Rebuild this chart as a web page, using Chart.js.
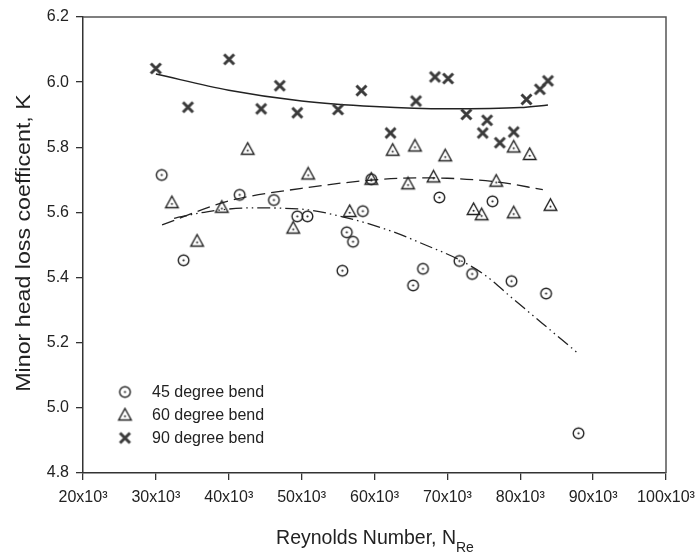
<!DOCTYPE html>
<html>
<head>
<meta charset="utf-8">
<script src="https://cdn.jsdelivr.net/npm/chart.js@4"></script>
<style>
  body { margin: 0; background: #fff; }
  canvas { display: block; }
</style>
</head>
<body>
<canvas id="myChart" width="698" height="554"></canvas>
<script>
// Reynolds number in thousands, K values
const re45 = [30.8, 33.8, 41.5, 46.2, 49.4, 50.8, 55.6, 56.2, 57.05, 58.4, 59.56, 65.3, 66.65, 68.9, 71.65, 73.4, 76.2, 78.8, 83.55, 88.0];
const k45  = [5.715, 5.453, 5.654, 5.638, 5.588, 5.588, 5.421, 5.539, 5.510, 5.604, 5.702, 5.376, 5.427, 5.646, 5.451, 5.411, 5.634, 5.389, 5.351, 4.922];

const re60 = [32.2, 35.66, 39.05, 42.6, 48.85, 50.9, 56.6, 59.56, 62.5, 64.6, 65.55, 68.1, 69.7, 73.6, 74.7, 76.7, 79.1, 79.1, 81.3, 84.15];
const k60  = [5.630, 5.512, 5.616, 5.794, 5.552, 5.718, 5.603, 5.702, 5.791, 5.688, 5.804, 5.709, 5.774, 5.609, 5.593, 5.696, 5.801, 5.599, 5.778, 5.622];

const re90 = [30.0, 34.4, 40.05, 44.45, 47.0, 49.4, 55.0, 58.2, 62.2, 65.7, 68.3, 70.1, 72.6, 74.85, 75.45, 77.2, 79.1, 80.85, 82.7, 83.8];
const k90  = [6.042, 5.923, 6.070, 5.918, 5.989, 5.906, 5.916, 5.974, 5.844, 5.942, 6.016, 6.011, 5.901, 5.844, 5.883, 5.814, 5.847, 5.947, 5.978, 6.004];

// fitted curves, points
const fitRe45 = [32.5, 37, 43, 50, 55, 62, 67, 71.6, 75, 79, 83, 87.8];
const fitK45  = [5.582, 5.602, 5.614, 5.610, 5.590, 5.545, 5.500, 5.455, 5.410, 5.335, 5.260, 5.170];
const fitRe60 = [30.85, 40, 50, 60, 66, 70, 77, 83.1];
const fitK60  = [5.562, 5.635, 5.674, 5.700, 5.706, 5.705, 5.693, 5.670];
const fitRe90 = [30, 40, 50, 60, 70, 80, 83.8];
const fitK90  = [6.025, 5.975, 5.942, 5.925, 5.918, 5.922, 5.930];

const xTicks = [20, 30, 40, 50, 60, 70, 80, 90, 100];
const yTicks = [4.8, 5.0, 5.2, 5.4, 5.6, 5.8, 6.0, 6.2];
const seriesNames = ['45 degree bend', '60 degree bend', '90 degree bend'];

const font = 'Liberation Sans, Arial, sans-serif';

function pts(xs, ys) {
  return xs.map((x, i) => ({ x: x, y: ys[i] }));
}

// marker images
function circleMark() {
  const c = document.createElement('canvas');
  c.width = 15; c.height = 15;
  const g = c.getContext('2d');
  g.strokeStyle = '#222'; g.lineWidth = 1.4;
  g.beginPath(); g.arc(7.5, 7.5, 5.3, 0, Math.PI * 2); g.stroke();
  g.fillStyle = '#222';
  g.beginPath(); g.arc(7.5, 7.5, 1.1, 0, Math.PI * 2); g.fill();
  return c;
}
function triMark() {
  const c = document.createElement('canvas');
  c.width = 17; c.height = 17;
  const g = c.getContext('2d');
  g.strokeStyle = '#222'; g.lineWidth = 1.4; g.lineJoin = 'miter';
  g.beginPath(); g.moveTo(8.5, 2); g.lineTo(14.8, 13.5); g.lineTo(2.2, 13.5); g.closePath(); g.stroke();
  g.fillStyle = '#222';
  g.beginPath(); g.arc(8.5, 9.8, 1.0, 0, Math.PI * 2); g.fill();
  return c;
}
function xMark() {
  const c = document.createElement('canvas');
  c.width = 15; c.height = 15;
  const g = c.getContext('2d');
  g.strokeStyle = '#3a3a3a'; g.lineWidth = 3; g.lineCap = 'butt';
  g.beginPath(); g.moveTo(2.5, 2.5); g.lineTo(12.5, 12.5); g.moveTo(12.5, 2.5); g.lineTo(2.5, 12.5); g.stroke();
  return c;
}
const marks = [circleMark(), triMark(), xMark()];

const framePlugin = {
  id: 'frame',
  afterDraw(chart) {
    const a = chart.chartArea, c = chart.ctx;
    c.save();
    c.strokeStyle = '#555'; c.lineWidth = 1.5;
    c.beginPath();
    c.moveTo(a.left, a.top); c.lineTo(a.right, a.top); c.lineTo(a.right, a.bottom);
    c.stroke();

    // legend inside plot
    c.fillStyle = '#222';
    c.font = '16px ' + font;
    c.textBaseline = 'middle';
    const rows = [392, 415, 438];
    for (let i = 0; i < 3; i++) {
      const m = marks[i];
      c.drawImage(m, 125 - m.width / 2, rows[i] - m.height / 2);
      c.fillText(seriesNames[i], 152, rows[i] + 1);
    }

    // y axis title (a bit stretched along its length, like the original)
    c.font = '20px ' + font;
    c.textAlign = 'center';
    c.textBaseline = 'alphabetic';
    c.save();
    c.translate(30, 243);
    c.rotate(-Math.PI / 2);
    c.scale(1.16, 1);
    c.fillText('Minor head loss coefficent, K', 0, 0);
    c.restore();

    // x axis title with subscript
    const main = 'Reynolds Number, N';
    c.font = '19.5px ' + font;
    const w1 = c.measureText(main).width;
    c.font = '14px ' + font;
    const w2 = c.measureText('Re').width;
    const x0 = 375 - (w1 + w2) / 2;
    c.textAlign = 'left';
    c.font = '19.5px ' + font;
    c.fillText(main, x0, 544);
    c.font = '14px ' + font;
    c.fillText('Re', x0 + w1, 552);
    c.restore();
  }
};

const ctx = document.getElementById('myChart').getContext('2d');
const myChart = new Chart(ctx, {
  type: 'scatter',
  data: {
    datasets: [
      { data: pts(re45, k45), pointStyle: marks[0], pointRadius: 7 },
      { data: pts(re60, k60), pointStyle: marks[1], pointRadius: 8 },
      { data: pts(re90, k90), pointStyle: marks[2], pointRadius: 7 },
      { data: pts(fitRe45, fitK45), showLine: true, pointRadius: 0, borderColor: '#222', borderWidth: 1.3,
        borderDash: [13, 4, 1.5, 4, 1.5, 4], cubicInterpolationMode: 'monotone', fill: false },
      { data: pts(fitRe60, fitK60), showLine: true, pointRadius: 0, borderColor: '#222', borderWidth: 1.3,
        borderDash: [13, 6], cubicInterpolationMode: 'monotone', fill: false },
      { data: pts(fitRe90, fitK90), showLine: true, pointRadius: 0, borderColor: '#222', borderWidth: 1.5,
        cubicInterpolationMode: 'monotone', fill: false }
    ]
  },
  options: {
    responsive: false,
    animation: false,
    layout: { padding: { left: 0, right: 32, top: 17, bottom: 0 } },
    plugins: {
      legend: { display: false },
      tooltip: { enabled: false }
    },
    scales: {
      x: {
        type: 'linear',
        min: 20, max: 100,
        afterBuildTicks: s => { s.ticks = xTicks.map(v => ({ value: v })); },
        afterFit: s => { s.height = 81; s.paddingLeft = 0; s.paddingRight = 0; },
        ticks: {
          color: '#222',
          font: { family: font, size: 16 },
          padding: 8,
          maxRotation: 0,
          callback: v => v + 'x10\u00b3'
        },
        grid: { drawOnChartArea: false, tickLength: 7, color: '#333', lineWidth: 1.3 },
        border: { color: '#333', width: 1.5 }
      },
      y: {
        min: 4.8, max: 6.2,
        afterBuildTicks: s => { s.ticks = yTicks.map(v => ({ value: v })); },
        afterFit: s => { s.width = 83; s.paddingTop = 0; s.paddingBottom = 0; },
        ticks: {
          color: '#222',
          font: { family: font, size: 16 },
          padding: 7,
          callback: v => v.toFixed(1)
        },
        grid: { drawOnChartArea: false, tickLength: 7, color: '#333', lineWidth: 1.3 },
        border: { color: '#333', width: 1.5 }
      }
    }
  },
  plugins: [framePlugin]
});
</script>
</body>
</html>
